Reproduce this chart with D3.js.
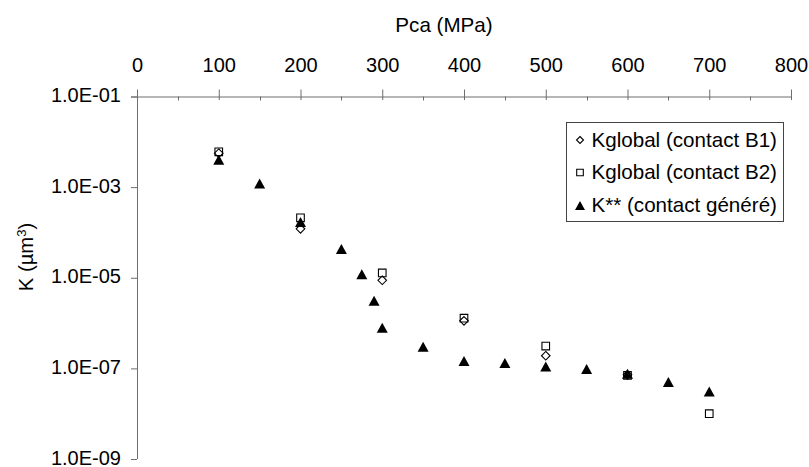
<!DOCTYPE html>
<html><head><meta charset="utf-8">
<script src="https://cdn.jsdelivr.net/npm/d3@7"></script>
<style>
body{margin:0;background:#fff;}
svg{display:block;font-family:"Liberation Sans",Arial,sans-serif;}
</style></head>
<body><svg id="c" width="809" height="467"></svg>
<script>
const xTicks = [0,100,200,300,400,500,600,700,800];
const xMinor = [50,150,250,350,450,550,650,750];
const yTicks = [1e-1,1e-3,1e-5,1e-7,1e-9];
const yTickLabels = ["1.0E-01","1.0E-03","1.0E-05","1.0E-07","1.0E-09"];

const b1P = [100,200,300,400,500,600];
const b1K = [5.6e-3,1.2e-4,8.8e-6,1.12e-6,1.9e-7,7.2e-8];
const b2P = [100,200,300,400,500,600,700];
const b2K = [6.0e-3,2.1e-4,1.28e-5,1.28e-6,3.1e-7,7.0e-8,1.0e-8];
const gP = [100,150,200,250,275,290,300,350,400,450,500,550,600,650,700];
const gK = [4.0e-3,1.2e-3,1.7e-4,4.3e-5,1.2e-5,3.1e-6,7.9e-7,3.0e-7,1.45e-7,1.32e-7,1.1e-7,9.7e-8,7.6e-8,5.0e-8,3.1e-8];

const seriesNames = ["Kglobal (contact B1)","Kglobal (contact B2)","K** (contact généré)"];

const svg = d3.select("#c");
const L = 137, R = 791, T = 96.5, B = 459;
const x = d3.scaleLinear().domain([0,800]).range([L,R]);
const y = d3.scaleLog().domain([1e-1,1e-9]).range([T,B]);
const axisCol = "#6e6e6e";
const fs = 20;

// x axis (top)
const gx = svg.append("g").attr("transform",`translate(0,${T})`)
  .call(d3.axisTop(x).tickValues(xTicks).tickSize(7).tickPadding(18).tickSizeOuter(0));
gx.select(".domain").attr("stroke",axisCol).attr("d",`M${L-6},0.5H${R}`);
gx.selectAll(".tick line").attr("stroke",axisCol).attr("y2",-7).attr("y1",3.5);
gx.selectAll(".tick text").attr("font-size",fs).attr("fill","#000").attr("font-family","Liberation Sans, Arial, sans-serif");
svg.append("g").selectAll("line").data(xMinor).join("line")
  .attr("x1",d=>Math.round(x(d))+0.5).attr("x2",d=>Math.round(x(d))+0.5)
  .attr("y1",T).attr("y2",T+4).attr("stroke",axisCol);

// y axis
const gy = svg.append("g").attr("transform",`translate(${L},0)`)
  .call(d3.axisLeft(y).tickValues(yTicks).tickSize(6).tickPadding(10).tickSizeOuter(0)
    .tickFormat((d,i)=>yTickLabels[i]));
gy.select(".domain").attr("stroke",axisCol).attr("d",`M0.5,${T}V${B}`);
gy.selectAll(".tick line").attr("stroke",axisCol);
gy.selectAll(".tick text").attr("font-size",fs).attr("fill","#000").attr("dy","0.25em").attr("font-family","Liberation Sans, Arial, sans-serif");

// titles
svg.append("text").attr("x",444).attr("y",31.5).attr("text-anchor","middle")
  .attr("font-size",20.6).text("Pca (MPa)");
const yt = svg.append("text").attr("transform","translate(33,257) rotate(-90)")
  .attr("text-anchor","middle").attr("font-size",20.3);
yt.append("tspan").text("K (µm");
yt.append("tspan").attr("font-size",13).attr("dy",-7).text("3");
yt.append("tspan").attr("dy",7).text(")");

// markers
const diamond = s => `M0,${-s}L${s},0L0,${s}L${-s},0Z`;
const square = s => `M${-s},${-s}H${s}V${s}H${-s}Z`;
const tri = (w,h) => `M0,${-h/2}L${w/2},${h/2}L${-w/2},${h/2}Z`;

const pts = svg.append("g");
pts.selectAll(".b1").data(b1P).join("path").attr("class","b1")
  .attr("transform",(d,i)=>`translate(${x(d)},${y(b1K[i])})`)
  .attr("d",diamond(4.3)).attr("fill","#fff").attr("stroke","#000").attr("stroke-width",1.1);
pts.selectAll(".b2").data(b2P).join("path").attr("class","b2")
  .attr("transform",(d,i)=>`translate(${x(d)},${y(b2K[i])})`)
  .attr("d",square(3.8)).attr("fill","none").attr("stroke","#000").attr("stroke-width",1.1);
pts.selectAll(".gen").data(gP).join("path").attr("class","gen")
  .attr("transform",(d,i)=>`translate(${x(d)},${y(gK[i])})`)
  .attr("d",tri(11,10)).attr("fill","#000");

// legend
const lg = svg.append("g");
lg.append("rect").attr("x",566.5).attr("y",122.5).attr("width",217).attr("height",99)
  .attr("fill","#fff").attr("stroke","#444").attr("stroke-width",1);
const rowsY = [146.5,179,212];
const shapes = [diamond(3.5),square(3.3),tri(10,9)];
seriesNames.forEach((n,i)=>{
  lg.append("path").attr("transform",`translate(580,${rowsY[i]-6.5})`).attr("d",shapes[i])
    .attr("fill",i<2?"#fff":"#000").attr("stroke",i<2?"#000":"none").attr("stroke-width",1.1);
  lg.append("text").attr("x",591.5).attr("y",rowsY[i]).attr("font-size",20.6).text(n);
});
</script></body></html>
